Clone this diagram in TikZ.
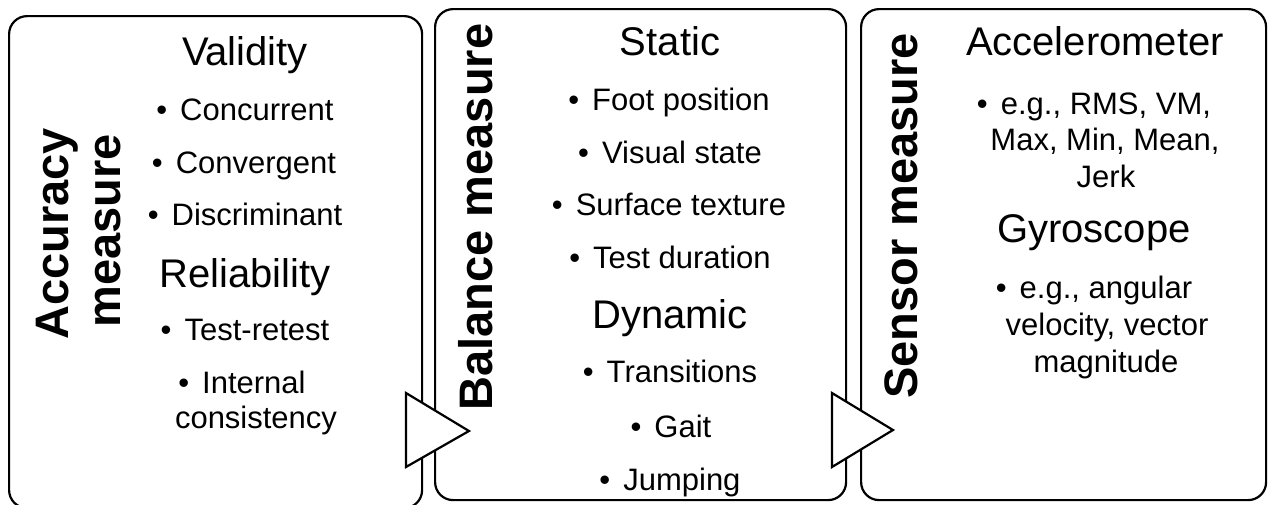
\documentclass[tikz,border=0pt]{standalone}
\usepackage{fontspec}
\setmainfont{Liberation Sans}
\newcommand{\bul}{•\hspace{0.42em}}
\begin{document}
\begin{tikzpicture}[x=1pt,y=-1pt,
  box/.style={draw, line width=2.2pt, rounded corners=18pt, inner sep=0pt, anchor=north west},
  head/.style={anchor=base, font=\fontsize{40}{44}\selectfont, inner sep=0pt},
  item/.style={anchor=base, font=\fontsize{31}{36}\selectfont, inner sep=0pt},
  side/.style={anchor=base, rotate=90, font=\fontsize{47}{53}\selectfont\bfseries, inner sep=0pt},
  tri/.style={draw, line width=2.2pt, fill=white, line join=miter}]
\useasboundingbox (0,0) rectangle (1268,504);
% boxes
\node[box, minimum width=413pt, minimum height=492pt] (b1) at (8,15) {};
\node[box, minimum width=411pt, minimum height=491pt] (b2) at (434,8) {};
\node[box, minimum width=405pt, minimum height=491pt] (b3) at (860,8) {};
% arrows
\draw[tri] (406,393) coordinate (t1a) -- (469,431) coordinate (t1tip) -- (406,467) coordinate (t1b) -- cycle;
\draw[tri] (832,393) coordinate (t2a) -- (893,430) coordinate (t2tip) -- (832,467) coordinate (t2b) -- cycle;
% box 1
\node[side] (s1a) at (68,234) {Accuracy};
\node[side] (s1b) at (120,231) {measure};
\node[head] (h11) at (245,65) {Validity};
\node[item] (i11) at (245,120) {\bul Concurrent};
\node[item] (i12) at (244,173) {\bul Convergent};
\node[item] (i13) at (245,225) {\bul Discriminant};
\node[head] (h12) at (245,287) {Reliability};
\node[item] (i14) at (245,340) {\bul Test-retest};
\node[item] (i15) at (242,393) {\bul Internal};
\node[item] (i16) at (256,428) {consistency};
% box 2
\node[side] (s2) at (492,217) {Balance measure};
\node[head] (h21) at (670,55) {Static};
\node[item] (i21) at (669,110) {\bul Foot position};
\node[item] (i22) at (670,163) {\bul Visual state};
\node[item] (i23) at (669,215) {\bul Surface texture};
\node[item] (i24) at (670,268) {\bul Test duration};
\node[head] (h22) at (670,328) {Dynamic};
\node[item] (i25) at (670,382) {\bul Transitions};
\node[item] (i26) at (671,437) {\bul Gait};
\node[item] (i27) at (670,490) {\bul Jumping};
% box 3
\node[side] (s3) at (917,216) {Sensor measure};
\node[head] (h31) at (1095,55) {Accelerometer};
\node[item] (i31) at (1094,114) {\bul e.g., RMS, VM,};
\node[item] (i32) at (1105,150) {Max, Min, Mean,};
\node[item] (i33) at (1106,187) {Jerk};
\node[head] (h32) at (1094,242) {Gyroscope};
\node[item] (i34) at (1094,298) {\bul e.g., angular};
\node[item] (i35) at (1107,335) {velocity, vector};
\node[item] (i36) at (1106,372) {magnitude};
\end{tikzpicture}
\end{document}
